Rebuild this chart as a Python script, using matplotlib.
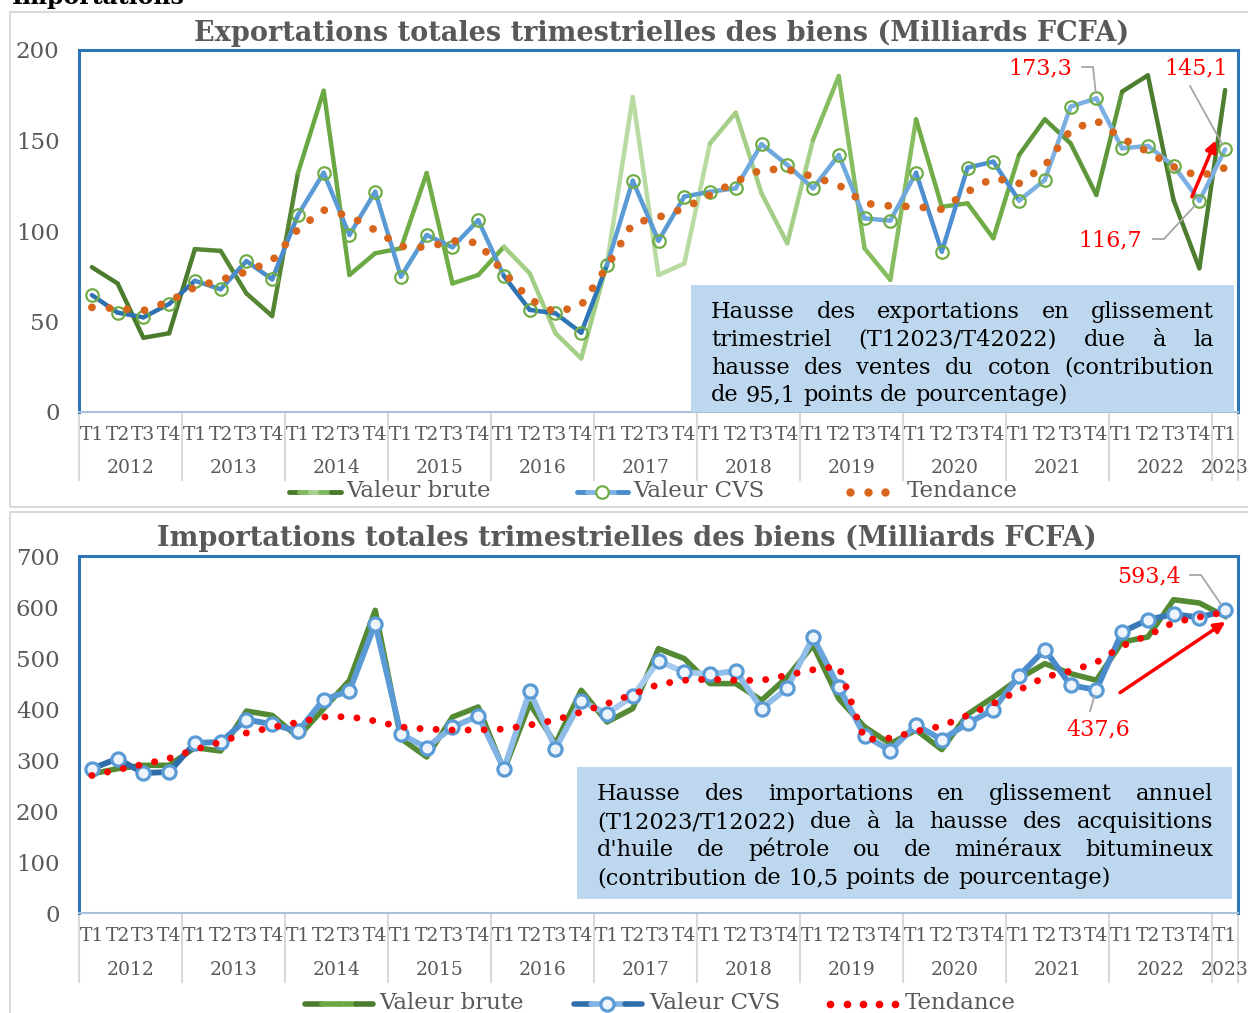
import numpy as np
import matplotlib.pyplot as plt
import matplotlib.transforms as mtransforms
from matplotlib.patches import Rectangle
from matplotlib.lines import Line2D

W, H = 1248, 1013
SERIF = 'DejaVu Serif'
GREY = '#595959'

# données
years = ['2012', '2013', '2014', '2015', '2016', '2017', '2018', '2019',
         '2020', '2021', '2022', '2023']
quarters = ['T1', 'T2', 'T3', 'T4'] * 11 + ['T1']

export_brute = [80, 71, 41, 43.5, 90, 89, 65.5, 53, 132, 177.5, 75.7, 87.7,
                90.4, 132, 71, 75.7, 91.3, 76.6, 43.5, 29.6, 82, 174, 75.7, 82,
                148.4, 165.4, 120.8, 93.2, 150.3, 185.6, 90.4, 73, 161.7, 113.4, 115.3, 96,
                142, 161.7, 148.4, 119.9, 177, 186, 117, 79.4, 177.9]
export_cvs = [64.6, 54.9, 52.3, 59.7, 72.5, 67.8, 83.4, 73.3, 108.8, 132.2, 97.8, 121.7,
              74.8, 97.8, 91, 106, 75.1, 56.4, 54.5, 43.8, 81.2, 127.8, 94.6, 119,
              121.7, 123.6, 148, 136.5, 123.6, 142, 107, 105.7, 132.2, 88.6, 135, 138.3,
              116.8, 128.2, 168.7, 173.3, 145.7, 147, 136.1, 116.7, 145.1]
export_tendance = [57.8, 57.2, 56, 61, 69, 73, 77.5, 83.6, 101, 111.6, 108.3, 100.5,
                   91.5, 91, 94.6, 93.5, 77, 62.3, 55, 59, 80.3, 104.2, 107.6, 112.5,
                   120, 127.2, 134, 134, 130, 125.4, 115.3, 113.8, 113.4, 112, 121.7, 129.4,
                   126.3, 136, 155.8, 161, 151.2, 143.8, 135.5, 130, 135]

import_brute = [273, 283, 289.6, 289.6, 324.3, 317.6, 396, 387.6, 345, 400.8, 456, 593.5,
                342, 305.9, 384.3, 403.9, 279.8, 410.6, 332, 436.7, 374.5, 400.8, 518.4, 498.8,
                449.8, 449.8, 417, 462.7, 524.9, 420, 365, 332, 358.8, 320.4, 389.6, 423.1,
                459.8, 489, 469.4, 456.3, 531.4, 541.2, 614.3, 607.8, 581.7]
import_cvs = [283.2, 302.7, 274.5, 276.5, 333.4, 335.3, 379.2, 370, 356.3, 418.4, 435.3, 567.3,
              350.4, 324.3, 364.6, 386.3, 283, 435.3, 322.3, 415.7, 391, 424.9, 494, 472.5,
              468.2, 474.5, 400.8, 440.8, 541.2, 443, 348, 318.3, 368.6, 339.9, 371.6, 399,
              465, 516.5, 446.5, 437.6, 551, 575.1, 585.9, 579.4, 593.4]
import_tendance = [269.6, 281, 291.5, 303.3, 320.4, 335.3, 353, 364, 373.9, 384.3, 385, 376.5,
                   364.7, 360.7, 358.8, 358.8, 360.7, 368.6, 378.4, 394, 410.4, 428.8, 448.4, 456.3,
                   458.2, 456.3, 456, 466.3, 477, 484, 340, 343, 356.3, 366.7, 387.6, 410.4,
                   437.2, 462.7, 474.5, 491.2, 523.4, 544.4, 569.6, 580.4, 590]

export_box = ["Hausse des exportations en glissement",
              "trimestriel (T12023/T42022) due à la",
              "hausse des ventes du coton (contribution",
              "de 95,1 points de pourcentage)"]
import_box = ["Hausse des importations en glissement annuel",
              "(T12023/T12022) due à la hausse des acquisitions",
              "d'huile de pétrole ou de minéraux bitumineux",
              "(contribution de 10,5 points de pourcentage)"]

# couleurs (dégradés Excel approchés, une couleur par année)
green_years = ['#4b7b2d', '#558634', '#6aa843', '#70ad47', '#a2cf85', '#b7dba0',
               '#a5cf88', '#86bd60', '#70ad47', '#5e973b', '#4d7e30', '#45712a']
blue_top_years = ['#2f70b0', '#4a8ccc', '#5b9bd5', '#5b9bd5', '#2e75b6', '#5b9bd5',
                  '#6fa8dc', '#6fa8dc', '#4d8fd0', '#7db0e2', '#7db0e2', '#7db0e2']
blue_bot_years = ['#2e6da8', '#4a8ccc', '#5b9bd5', '#7fb2e5', '#8fbce8', '#a7cbee',
                  '#8fbce8', '#6aa5dc', '#5b9bd5', '#4a8acb', '#3a78b8', '#2e6da8']

fig = plt.figure(figsize=(W / 100, H / 100), dpi=100)


def fx(x):
    return x / W


def fy(y):
    return 1 - y / H


def make_axes(top, bottom, ymax, step):
    ax = fig.add_axes([fx(79), fy(bottom), (1238 - 79) / W, (bottom - top) / H])
    ax.set_xlim(-0.5, len(quarters) - 0.5)
    ax.set_ylim(0, ymax)
    ticks = np.arange(0, ymax + 1, step)
    ax.set_yticks(ticks)
    ax.set_yticklabels([str(t) for t in ticks], family=SERIF, fontsize=16.5, color=GREY)
    ax.tick_params(axis='y', length=0, pad=14)
    ax.set_xticks([])
    for s in ['left', 'top', 'right']:
        ax.spines[s].set_color('#2e75b6')
        ax.spines[s].set_linewidth(2.2)
    ax.spines['bottom'].set_color('#a9bfdc')
    ax.spines['bottom'].set_linewidth(1.5)
    return ax


def category_axis(ax, y_axis, y_q, y_year, y_end):
    tr = mtransforms.blended_transform_factory(ax.transData, fig.transFigure)
    for i, q in enumerate(quarters):
        ax.text(i, fy(y_q), q, transform=tr, ha='center', va='center',
                fontsize=13.5, family=SERIF, color=GREY)
    for k, yr in enumerate(years):
        xc = 4 * k + 1.5 if k < len(years) - 1 else len(quarters) - 1
        ax.text(xc, fy(y_year), yr, transform=tr, ha='center', va='center',
                fontsize=13.5, family=SERIF, color=GREY)
    seps = [4 * k - 0.5 for k in range(len(years))] + [len(quarters) - 0.5]
    for xb in seps:
        ax.plot([xb, xb], [fy(y_axis), fy(y_end)], transform=tr, color='#d9d9d9',
                lw=1.5, clip_on=False)


def seg_line(ax, y, colors, lw, z):
    for i in range(len(y) - 1):
        ax.plot([i, i + 1], [y[i], y[i + 1]], color=colors[i // 4], lw=lw,
                solid_capstyle='round', zorder=z)


def justified(lines, x0, x1, y0, dy, size):
    r = fig.canvas.get_renderer()
    for k, line in enumerate(lines):
        words = line.split()
        arts = [fig.text(0, fy(y0 + k * dy), w, fontsize=size, family=SERIF,
                         va='baseline', color='black', zorder=7) for w in words]
        widths = [a.get_window_extent(r).width for a in arts]
        if k < len(lines) - 1 and len(words) > 1:
            gap = (x1 - x0 - sum(widths)) / (len(words) - 1)
        else:
            gap = size * 100 / 72 * 0.32
        x = x0
        for a, w in zip(arts, widths):
            a.set_x(fx(x))
            x += w + gap


def px_of(ax, i, v):
    X, Y = ax.transData.transform((i, v))
    return X, H - Y


def leader(pts):
    fig.add_artist(Line2D([fx(p[0]) for p in pts], [fy(p[1]) for p in pts],
                          color='#a6a6a6', lw=1.3, transform=fig.transFigure, zorder=8))


def shorten(p0, p1, d):
    v = np.array(p1) - np.array(p0)
    n = np.hypot(*v)
    return tuple(np.array(p1) - v / n * d)


def red_label(x, y, s, ha):
    fig.text(fx(x), fy(y), s, color='#ff0000', fontsize=16, family=SERIF,
             ha=ha, va='center', zorder=8)


# cadres gris
for (x0, y0, x1, y1) in [(10, 12, 1262, 507), (10, 512, 1262, 1040)]:
    fig.add_artist(Rectangle((fx(x0), fy(y1)), fx(x1) - fx(x0), fy(y0) - fy(y1),
                             transform=fig.transFigure, fill=False, ec='#d9d9d9', lw=1.5))

fig.text(fx(12), fy(4), 'Importations', fontsize=17, fontweight='bold', family=SERIF,
         va='baseline', ha='left', color='black')

idx = np.arange(len(quarters))

# ---------------- Exportations ----------------
ax1 = make_axes(50, 412, 200, 50)
category_axis(ax1, 412, 435, 468, 480)
seg_line(ax1, export_brute, green_years, 3.2, 2)
seg_line(ax1, export_cvs, blue_top_years, 3.2, 3)
ax1.plot(idx, export_cvs, ls='none', marker='o', ms=9, mfc='none', mec='#70ad47',
         mew=1.6, zorder=4)
ax1.plot(idx, export_tendance, ls=(0, (0.01, 2.25)), lw=5.6, dash_capstyle='round',
         color='#d8651c', zorder=5)
fig.text(fx(662), fy(33), 'Exportations totales trimestrielles des biens (Milliards FCFA)',
         fontsize=19.5, fontweight='bold', family=SERIF, color=GREY, ha='center', va='center')

fig.add_artist(Rectangle((fx(691), fy(412)), fx(1234) - fx(691), fy(285) - fy(412),
                         transform=fig.transFigure, fc='#bdd7ee', ec='none', zorder=6))
justified(export_box, 711, 1214, 318, 27.8, 16.2)

n = len(quarters)
p39 = px_of(ax1, 39, export_cvs[39])
red_label(1072, 68, '173,3', 'right')
leader([(1082, 67), (1093, 67), shorten((1093, 67), p39, 6)])
p44 = px_of(ax1, n - 1, export_cvs[n - 1])
red_label(1196, 68, '145,1', 'center')
leader([(1190, 86), shorten((1190, 86), p44, 6)])
p43 = px_of(ax1, n - 2, export_cvs[n - 2])
red_label(1142, 240, '116,7', 'right')
leader([(1153, 239), (1164, 239), shorten((1164, 239), p43, 6)])
ax1.annotate('', xy=(n - 1.32, 151.5), xytext=(n - 2.33, 117.5),
             arrowprops=dict(arrowstyle='-|>', color='#ff0000', lw=2.5, mutation_scale=16),
             zorder=8)

# légende haut
def legend_line(x0, x1, y, colors, lw):
    k = len(colors)
    step = (x1 - x0) / k
    for j, c in enumerate(colors):
        fig.add_artist(Line2D([fx(x0 + j * step), fx(x0 + (j + 1) * step)], [fy(y), fy(y)],
                              color=c, lw=lw, solid_capstyle='round',
                              transform=fig.transFigure))


def legend_text(x, y, s):
    fig.text(fx(x), fy(y), s, fontsize=16.5, family=SERIF, color=GREY, ha='left', va='center')


legend_line(289, 341, 492, ['#4b7b2d', '#7db85a', '#a9d18e', '#7db85a', '#4b7b2d'], 3.5)
legend_text(346, 491, 'Valeur brute')
legend_line(577, 628, 492, ['#4a8ccc', '#7fb2e5', '#9dc3e6', '#7fb2e5', '#4a8ccc'], 3.5)
fig.add_artist(Line2D([fx(602)], [fy(492)], marker='o', ms=9, mfc='white', mec='#70ad47',
                      mew=1.6, transform=fig.transFigure))
legend_text(633, 491, 'Valeur CVS')
fig.add_artist(Line2D([fx(850), fx(867.5), fx(885)], [fy(492)] * 3, ls='none', marker='o',
                      ms=6, mfc='#d8651c', mec='none', transform=fig.transFigure))
legend_text(907, 491, 'Tendance')

# ---------------- Importations ----------------
ax2 = make_axes(556, 913, 700, 100)
category_axis(ax2, 913, 936, 970, 982)
ax2.plot(idx, import_brute, color='#558a35', lw=4, solid_joinstyle='round', zorder=2)
seg_line(ax2, import_cvs, blue_bot_years, 4.2, 3)
ax2.plot(idx, import_cvs, ls='none', marker='o', ms=9.5, mfc='#eef4fb', mec='#5b9bd5',
         mew=2.3, zorder=4)
ax2.plot(idx, import_tendance, ls=(0, (0.01, 2.3)), lw=5, dash_capstyle='round',
         color='#ff0000', zorder=5)
fig.text(fx(627), fy(538), 'Importations totales trimestrielles des biens (Milliards FCFA)',
         fontsize=19.5, fontweight='bold', family=SERIF, color=GREY, ha='center', va='center')

fig.add_artist(Rectangle((fx(577), fy(899)), fx(1232) - fx(577), fy(767) - fy(899),
                         transform=fig.transFigure, fc='#bdd7ee', ec='none', zorder=6))
justified(import_box, 597, 1213, 800, 28, 16.2)

q44 = px_of(ax2, n - 1, import_cvs[n - 1])
red_label(1181, 576, '593,4', 'right')
leader([(1190, 575), (1201, 575), shorten((1201, 575), q44, 7)])
q39 = px_of(ax2, 39, import_cvs[39])
red_label(1098, 729, '437,6', 'center')
leader([(1090, 711), shorten((1090, 711), q39, 7)])
ax2.annotate('', xy=(n - 0.9, 574), xytext=(n - 5.17, 429),
             arrowprops=dict(arrowstyle='-|>', color='#ff0000', lw=2.5, mutation_scale=16),
             zorder=8)

legend_line(305, 373, 1004, ['#4b7b2d', '#6aa843', '#6aa843', '#4b7b2d'], 4)
legend_text(379, 1003, 'Valeur brute')
legend_line(574, 642, 1004, ['#2e6da8', '#7fb2e5', '#7fb2e5', '#2e6da8'], 4)
fig.add_artist(Line2D([fx(607)], [fy(1004)], marker='o', ms=9.5, mfc='#eef4fb', mec='#5b9bd5',
                      mew=2.3, transform=fig.transFigure))
legend_text(649, 1003, 'Valeur CVS')
fig.add_artist(Line2D([fx(830), fx(846.5), fx(863), fx(879), fx(895)], [fy(1004)] * 5,
                      ls='none', marker='o', ms=5.5, mfc='#ff0000', mec='none',
                      transform=fig.transFigure))
legend_text(905, 1003, 'Tendance')

fig.savefig('out.png', dpi=100)
